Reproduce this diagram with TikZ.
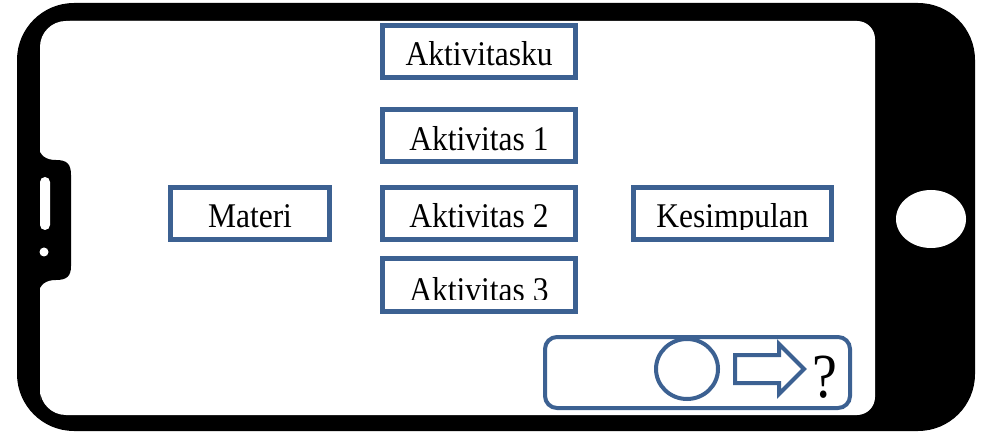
\documentclass[tikz,border=0pt]{standalone}
\usepackage{fontspec}
\usepackage{graphicx}
\setmainfont{Liberation Serif}
\definecolor{boxblue}{RGB}{60,97,146}
\newcommand{\stretchtxt}[1]{\scalebox{1}[1.1]{#1}}
\tikzset{
  box/.style={draw=boxblue, line width=5pt, fill=white, minimum width=193pt,
    minimum height=52pt, inner sep=0pt, text height=28pt, text depth=0pt,
    font=\fontsize{31.5}{36}\selectfont},
  boxtext/.style={anchor=base, inner sep=0pt, font=\fontsize{31.5}{36}\selectfont},
  panel/.style={draw=boxblue, line width=4pt, rounded corners=12pt},
  phone/.style={fill=black},
  hole/.style={fill=white}
}
\begin{document}
\begin{tikzpicture}[x=1pt,y=-1pt]
\useasboundingbox (0,0) rectangle (984,435);
\fill[white] (0,0) rectangle (984,435);
% phone body
\fill[phone, rounded corners=57pt] (17,3) rectangle (975,431);
% screen
\fill[hole] (40,415) [rounded corners=26pt] -- (40,21) [rounded corners=18pt] -- (875,21) -- (875,415) [rounded corners=26pt] -- (40,415) -- cycle;
\fill[hole, rounded corners=30pt] (40,21) -- (200,21) -- (200,200) -- (40,200) -- cycle;
% left notch
\fill[phone] (38,146) .. controls (40,156) and (46,160) .. (56,160)
  .. controls (67,160) and (71,164) .. (71,175) -- (71,266)
  .. controls (71,276) and (67,280) .. (56,280)
  .. controls (46,280) and (40,284) .. (38,294) -- cycle;
\fill[hole, rounded corners=5pt] (40,177) rectangle (50,230);
\fill[hole] (44,252) circle (4.5);
% home button
\fill[hole] (931,219) ellipse (35 and 29);
% boxes
\node[box] (title) at (479,51.5) {\stretchtxt{Aktivitasku}};
\node[box, text height=30pt] (act1) at (479,136) {\stretchtxt{Aktivitas 1}};
\node[box] (act2) at (479,213.5) {\stretchtxt{Aktivitas 2}};
\node[box] (act3) at (479,285) {};
\begin{scope}
  \clip (385,262) rectangle (573,299.5);
  \node[boxtext] (act3text) at (479,301.5) {\stretchtxt{Aktivitas 3}};
\end{scope}
\node[box, minimum width=159pt] (materi) at (250,213.5) {\stretchtxt{Materi}};
\node[box, minimum width=198pt] (kesimpulan) at (732.5,213.5) {};
\begin{scope}
  \clip (636,190) rectangle (829,230);
  \node[boxtext] (kestext) at (732.5,227.5) {\stretchtxt{Kesimpulan}};
\end{scope}
% bottom panel
\draw[panel, fill=white] (545,337) rectangle (850,408);
\draw[draw=boxblue, line width=4pt, fill=white] (687,369) ellipse (31 and 30);
\draw[draw=boxblue, line width=4pt, line join=miter, fill=white]
  (735,355) -- (779,355) -- (779,344) -- (804,369) -- (779,394) -- (779,383) -- (735,383) -- cycle;
\node[anchor=base, inner sep=0pt, font=\fontsize{56}{60}\selectfont] (q) at (825,397) {\scalebox{1}[1.12]{?}};
\end{tikzpicture}
\end{document}
